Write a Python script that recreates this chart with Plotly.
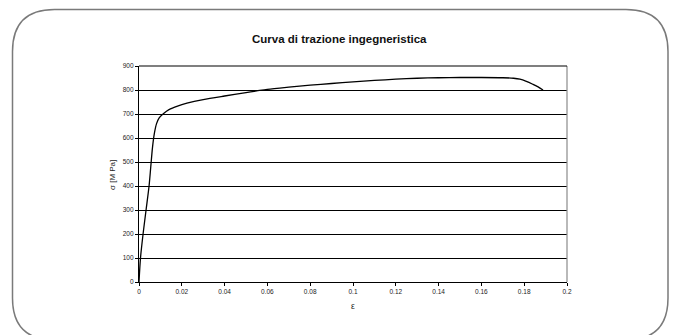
import plotly.graph_objects as go

# Data
strain = [0, 0.0007, 0.0019, 0.0033, 0.0047, 0.0055, 0.0063, 0.0072, 0.0082, 0.0095,
          0.0115, 0.014, 0.018, 0.0224, 0.03, 0.04, 0.05, 0.055, 0.06, 0.07, 0.08,
          0.09, 0.1, 0.11, 0.12, 0.13, 0.14, 0.15, 0.16, 0.17, 0.175, 0.178, 0.181,
          0.184, 0.1865, 0.1888]
stress = [0, 100, 200, 300, 400, 480, 560, 620, 660, 685,
          702, 718, 733, 745, 760, 775, 789, 796, 803, 812, 820,
          827, 834, 840, 845, 849, 851, 852, 852, 851, 849, 845, 836,
          824, 813, 800]

x_ticks = [0, 0.02, 0.04, 0.06, 0.08, 0.1, 0.12, 0.14, 0.16, 0.18, 0.2]
x_ticklabels = ["0", "0.02", "0.04", "0.06", "0.08", "0.1", "0.12", "0.14", "0.16", "0.18", "0.2"]
y_ticks = [0, 100, 200, 300, 400, 500, 600, 700, 800, 900]

title_text = "Curva di trazione ingegneristica"
x_title = "ε"
y_title = "σ [M Pa]"

W, H = 676, 335
L, R, T, B = 139, 109, 66, 53
PW, PH = W - L - R, H - T - B

def px(xp):
    return (xp - L) / PW

def py(yp):
    return (H - B - yp) / PH

FONT = "Liberation Sans, Arial, sans-serif"

fig = go.Figure()
fig.add_trace(go.Scatter(x=strain, y=stress, mode="lines",
                         line=dict(color="black", width=1.3, shape="spline", smoothing=0.8),
                         showlegend=False, hoverinfo="skip"))

# rounded outer frame (paper coords)
x0, x1, y0, y1, r = 12.5, 668, 9.5, 340, 42
def P(a, b):
    return f"{px(a):.5f},{py(b):.5f}"
path = (f"M {P(x0 + r, y0)} L {P(x1 - r, y0)} Q {P(x1, y0)} {P(x1, y0 + r)} "
        f"L {P(x1, y1 - r)} Q {P(x1, y1)} {P(x1 - r, y1)} "
        f"L {P(x0 + r, y1)} Q {P(x0, y1)} {P(x0, y1 - r)} "
        f"L {P(x0, y0 + r)} Q {P(x0, y0)} {P(x0 + r, y0)} Z")

shapes = [
    dict(type="path", xref="paper", yref="paper", path=path,
         line=dict(color="#7a7a7a", width=1.5), layer="below"),
    dict(type="line", xref="paper", yref="paper", x0=1, x1=1, y0=0, y1=1,
         line=dict(color="#8a8a8a", width=1.2)),
    dict(type="line", xref="paper", yref="paper", x0=0, x1=1, y0=1, y1=1,
         line=dict(color="black", width=1.2)),
]

annotations = [
    dict(text=f"<b>{title_text}</b>", xref="paper", yref="paper",
         x=px(339), y=py(39), xanchor="center", yanchor="middle", showarrow=False,
         font=dict(family=FONT, size=11.5, color="#111")),
    dict(text=x_title, xref="paper", yref="paper", x=0.5, y=py(306),
         xanchor="center", yanchor="middle", showarrow=False,
         font=dict(family=FONT, size=8.5, color="#222")),
    dict(text=y_title, xref="paper", yref="paper", x=px(112), y=py(175), textangle=-90,
         xanchor="center", yanchor="middle", showarrow=False,
         font=dict(family=FONT, size=8, color="#222")),
]

fig.update_layout(
    width=W, height=H, margin=dict(l=L, r=R, t=T, b=B),
    paper_bgcolor="white", plot_bgcolor="white",
    shapes=shapes, annotations=annotations,
    xaxis=dict(range=[0, 0.2], tickvals=x_ticks, ticktext=x_ticklabels,
               showgrid=False, zeroline=False, showline=True, linecolor="black", linewidth=1.2,
               ticks="outside", ticklen=3, tickcolor="black",
               tickfont=dict(family=FONT, size=6.5, color="#222"), fixedrange=True),
    yaxis=dict(range=[0, 900], tickvals=y_ticks,
               showgrid=True, gridcolor="black", gridwidth=1.1, zeroline=False,
               showline=True, linecolor="black", linewidth=1.2,
               ticks="outside", ticklen=3, tickcolor="black",
               tickfont=dict(family=FONT, size=6.5, color="#222"), fixedrange=True),
)

fig.write_html("out.html")
